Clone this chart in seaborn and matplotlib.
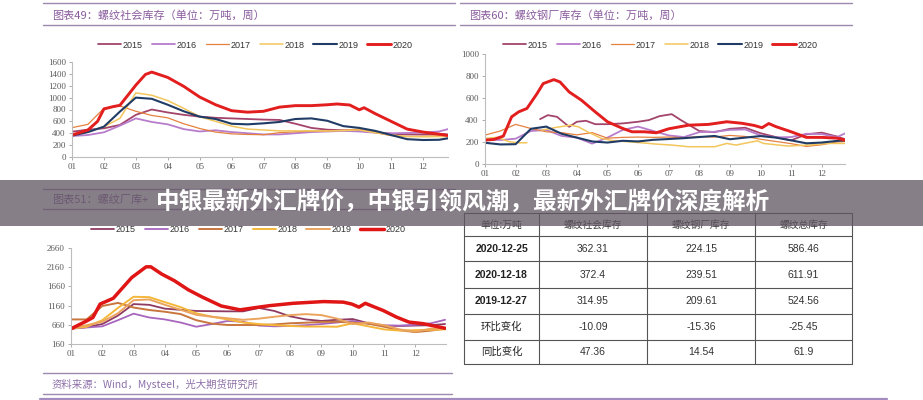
import numpy as np
import matplotlib
matplotlib.use("Agg")
import matplotlib.pyplot as plt
import seaborn as sns
from matplotlib.patches import Rectangle

sns.set_style("white")
plt.rcParams['font.family'] = ['Liberation Sans', 'Noto Sans CJK SC']

W, H = 923, 400

# ---------------- data ----------------
years = ['2015', '2016', '2017', '2018', '2019', '2020']
month_labels = ['01', '02', '03', '04', '05', '06', '07', '08', '09', '10', '11', '12']

# 图表49 螺纹社会库存 (half-month points)
grid_a = [1, 1.5, 2, 2.5, 3, 3.5, 4, 4.5, 5, 5.5, 6, 6.5, 7, 7.5, 8, 8.5, 9, 9.5,
          10, 10.5, 11, 11.5, 12, 12.5, 12.78]
soc_2015 = [427, 460, 483, 540, 710, 800, 750, 710, 680, 660, 650, 640, 630, 624, 560, 490,
            460, 450, 440, 420, 390, 380, 380, 390, 380]
soc_2016 = [354, 370, 416, 528, 650, 590, 550, 470, 430, 450, 420, 400, 380, 380, 400, 420,
            430, 440, 430, 410, 400, 405, 410, 430, 470]
soc_2017 = [494, 550, 820, 860, 770, 700, 660, 560, 480, 420, 390, 380, 375, 410, 425, 435,
            440, 450, 470, 410, 360, 345, 350, 360, 370]
soc_2018 = [370, 420, 510, 650, 1080, 1040, 950, 820, 680, 600, 520, 470, 455, 440, 440, 440,
            438, 445, 455, 410, 370, 345, 340, 345, 345]
soc_2019 = [360, 420, 511, 764, 1000, 980, 880, 770, 680, 640, 560, 550, 567, 590, 640, 650,
            610, 520, 490, 440, 370, 300, 286, 290, 315]
soc_2020_x = [1, 1.5, 1.8, 2, 2.3, 2.5, 3, 3.3, 3.5, 4, 4.5, 5, 5.5, 6, 6.5, 7, 7.5, 8, 8.5, 9,
              9.3, 9.7, 10, 10.15, 10.5, 11, 11.5, 12, 12.5, 12.78]
soc_2020 = [370, 455, 600, 810, 850, 870, 1210, 1390, 1430, 1340, 1190, 1010, 880, 780, 755,
            770, 840, 865, 865, 880, 893, 876, 795, 830, 730, 600, 470, 420, 385, 362]

# 图表60 螺纹钢厂库存
grid_b = [1, 1.5, 2, 2.5, 3, 3.5, 4, 4.5, 5, 5.5, 6, 6.5, 7, 7.5, 8, 8.5, 9, 9.5,
          10, 10.5, 11, 11.5, 12, 12.5, 12.76]
mill_2015_x = [2.8, 3.05, 3.35, 3.75, 4, 4.3, 4.6, 5, 5.5, 6, 6.35, 6.7, 7.1, 7.4, 8, 8.5, 9,
               9.5, 10, 10.5, 11, 11.5, 12, 12.5, 12.76]
mill_2015 = [408, 444, 429, 338, 384, 393, 362, 362, 369, 384, 399, 435, 453, 399, 300, 290,
             320, 330, 280, 245, 215, 270, 285, 250, 225]
mill_2016 = [224, 218, 230, 300, 310, 255, 240, 185, 240, 310, 340, 300, 260, 245, 290, 293,
             310, 314, 260, 242, 245, 275, 272, 245, 278]
mill_2017 = [263, 300, 360, 323, 293, 285, 265, 285, 235, 242, 245, 242, 245, 238, 250, 245,
             260, 250, 225, 205, 185, 160, 175, 200, 205]
mill_2018_x = [1, 1.4, 1.8, 2.1, 2.37, 2.55, 2.85, 3.3, 3.8, 4.05, 4.35, 4.8, 5.2, 5.7, 6.1,
               6.6, 7.1, 7.65, 8.5, 8.9, 9.2, 9.9, 10.1, 10.9, 11.56, 12.2, 12.76]
mill_2018 = [233, 242, 202, 193, 193, np.nan, 308, 332, 353, 338, 293, 233, 211, 202, 193,
             181, 172, 157, 157, 187, 172, 211, 187, 163, 172, 187, 187]
mill_2019 = [193, 178, 180, 320, 340, 275, 240, 205, 195, 211, 205, 220, 227, 235, 245, 255,
             225, 240, 254, 240, 215, 188, 195, 210, 215]
mill_2020_x = [1, 1.3, 1.6, 1.87, 2.1, 2.37, 2.7, 2.9, 3.25, 3.45, 3.75, 4.15, 4.6, 5, 5.5,
               5.8, 6.2, 6.6, 7, 7.65, 8.3, 8.9, 9.4, 9.8, 10.05, 10.27, 10.5, 11, 11.5, 12,
               12.5, 12.76]
mill_2020 = [217, 224, 254, 429, 474, 505, 640, 731, 767, 746, 655, 580, 474, 384, 323, 293,
             293, 284, 320, 353, 360, 384, 370, 350, 330, 368, 340, 293, 242, 242, 235, 217]

# 图表51 螺纹厂库+社库
grid_c = [1, 1.5, 2, 2.5, 3, 3.5, 4, 4.5, 5, 5.5, 6, 6.5, 7, 7.5, 8, 8.5, 9, 9.5,
          10, 10.5, 11, 11.5, 12, 12.5, 12.95]
tot_2015 = [560, 600, 680, 900, 1200, 1180, 1080, 1050, 1020, 1015, 1010, 1010, 1100, 1020,
            880, 800, 760, 790, 810, 700, 640, 630, 640, 650, 680]
tot_2016 = [560, 590, 620, 780, 950, 850, 800, 720, 610, 680, 760, 740, 640, 620, 630, 650,
            680, 720, 760, 690, 640, 640, 660, 700, 790]
tot_2017 = [800, 800, 1150, 1230, 1110, 1045, 1000, 940, 780, 690, 655, 655, 655, 670, 700,
            715, 735, 740, 715, 690, 610, 520, 470, 510, 560]
tot_2018 = [560, 610, 780, 1100, 1390, 1380, 1250, 1120, 960, 870, 800, 720, 680, 650, 630,
            615, 615, 610, 700, 620, 540, 510, 520, 530, 540]
tot_2019 = [566, 650, 740, 960, 1300, 1320, 1180, 1050, 920, 870, 830, 790, 820, 870, 912,
            938, 912, 820, 680, 720, 650, 540, 480, 560, 570]
tot_2020_x = [1, 1.5, 1.7, 1.93, 2.35, 2.94, 3.4, 3.55, 3.9, 4.3, 4.75, 5.2, 5.8, 6.4, 7.0,
              7.36, 8.1, 9.07, 9.7, 9.97, 10.2, 10.4, 10.98, 11.4, 11.8, 12.25, 12.95]
tot_2020 = [556, 760, 850, 1200, 1350, 1890, 2170, 2170, 1980, 1810, 1570, 1380, 1150, 1050,
            1120, 1160, 1220, 1265, 1250, 1200, 1120, 1220, 1030, 860, 730, 690, 570]

# table
table_header = ['单位:万吨', '螺纹社会库存', '螺纹钢厂库存', '螺纹总库存']
table_rows = ['2020-12-25', '2020-12-18', '2019-12-27', '环比变化', '同比变化']
social_stock = [362.31, 372.4, 314.95, -10.09, 47.36]
mill_stock = [224.15, 239.51, 209.61, -15.36, 14.54]
total_stock = [586.46, 611.91, 524.56, -25.45, 61.9]

title_a = '图表49：螺纹社会库存（单位：万吨，周）'
title_b = '图表60：螺纹钢厂库存（单位：万吨，周）'
title_c = '图表51：螺纹厂库+'
source_text = '资料来源：Wind，Mysteel，光大期货研究所'
banner_text = '中银最新外汇牌价，中银引领风潮，最新外汇牌价深度解析'

# ---------------- styles ----------------
top_colors = ['#A3446B', '#B77CCB', '#E5823F', '#F2C65C', '#203C66', '#E21E1E']
top_widths = [1.3, 1.3, 0.9, 1.1, 1.5, 2.1]
bot_colors = ['#8E3A62', '#A866BE', '#C8763E', '#F4B73A', '#EBA45E', '#E01515']
bot_widths = [1.3, 1.3, 1.4, 1.4, 1.4, 2.5]
rule_color = '#9D88AE'
title_color = '#8A5C9E'
tick_color = '#5A5A5A'

fig = plt.figure(figsize=(W / 100, H / 100), dpi=100)


def place(l, r, t, b):
    return fig.add_axes([l / W, 1 - b / H, (r - l) / W, (b - t) / H])


def draw(ax, x, y, color, lw, label):
    x = np.asarray(x, float)
    y = np.asarray(y, float)
    breaks = np.where(np.isnan(y))[0]
    start = 0
    first = True
    for stop in list(breaks) + [len(y)]:
        if stop - start > 1:
            sns.lineplot(x=x[start:stop], y=y[start:stop], ax=ax, color=color, linewidth=lw,
                         label=label if first else None, sort=False, estimator=None)
            first = False
        start = stop + 1


def style(ax, xmax, ylo, yhi, ystep, legend_xy):
    ax.set_xlim(1, xmax)
    ax.set_ylim(ylo, yhi)
    ax.set_xticks(range(1, 13))
    ax.set_xticklabels(month_labels)
    ax.set_yticks(range(ylo, yhi + 1, ystep))
    for lab in ax.get_xticklabels() + ax.get_yticklabels():
        lab.set_fontfamily('Liberation Serif')
        lab.set_fontsize(6.5)
        lab.set_color(tick_color)
    ax.tick_params(axis='both', length=2.5, width=0.6, color='#A0A0A0', pad=2, left=True, bottom=True)
    for s in ['top', 'right']:
        ax.spines[s].set_visible(False)
    for s in ['left', 'bottom']:
        ax.spines[s].set_color('#BDBDBD')
        ax.spines[s].set_linewidth(0.8)
    ax.set_xlabel('')
    ax.set_ylabel('')
    h, l = ax.get_legend_handles_labels()
    ax.legend(h, l, ncol=6, loc='center', bbox_to_anchor=(legend_xy[0] / W, 1 - legend_xy[1] / H),
              bbox_transform=fig.transFigure, frameon=False, fontsize=6.5, handlelength=2.6,
              handletextpad=0.15, columnspacing=1.0, borderpad=0, labelcolor='#333333')


# top-left
ax1 = place(72, 448, 62, 157)
for yr, xs, ys, c, lw in zip(years, [grid_a] * 5 + [soc_2020_x],
                             [soc_2015, soc_2016, soc_2017, soc_2018, soc_2019, soc_2020],
                             top_colors, top_widths):
    draw(ax1, xs, ys, c, lw, yr)
style(ax1, 12.78, 0, 1600, 200, (255, 45))

# top-right
ax2 = place(485, 845, 54, 164)
for yr, xs, ys, c, lw in zip(years, [mill_2015_x, grid_b, grid_b, mill_2018_x, grid_b, mill_2020_x],
                             [mill_2015, mill_2016, mill_2017, mill_2018, mill_2019, mill_2020],
                             top_colors, top_widths):
    draw(ax2, xs, ys, c, lw, yr)
style(ax2, 12.76, 0, 1000, 200, (660, 45))

# bottom-left
ax3 = place(71, 446, 248, 344)
for yr, xs, ys, c, lw in zip(years, [grid_c] * 5 + [tot_2020_x],
                             [tot_2015, tot_2016, tot_2017, tot_2018, tot_2019, tot_2020],
                             bot_colors, bot_widths):
    draw(ax3, xs, ys, c, lw, yr)
style(ax3, 12.98, 160, 2660, 500, (248, 230))

# ---------------- overlay: titles, table, banner ----------------
ov = fig.add_axes([0, 0, 1, 1])
ov.set_xlim(0, W)
ov.set_ylim(H, 0)
ov.axis('off')
ov.set_zorder(5)
ov.patch.set_alpha(0)

cjk = ['Noto Sans CJK SC', 'DejaVu Sans']
for (x0, x1), ys in [((43, 455), (3, 25)), ((460, 852), (3, 25)), ((43, 455), (189, 209)),
                     ((43, 452), (373, 394))]:
    for yy in ys:
        ov.plot([x0, x1], [yy, yy], color=rule_color, lw=1)
ov.plot([40, 887], [398.5, 398.5], color='#A48BC0', lw=1.6)

ov.text(52, 15, title_a, family=cjk, fontsize=8, color=title_color, va='center')
ov.text(469, 15, title_b, family=cjk, fontsize=8, color=title_color, va='center')
ov.text(52, 200, title_c, family=cjk, fontsize=8, color=title_color, va='center')
ov.text(52, 384, source_text, family=cjk, fontsize=7.5, color='#8E70AA', va='center',
        style='italic')

# table
cols_x = [464, 539, 647, 755, 852]
rows_y = [213, 236, 261, 288, 314, 340, 364]
for yy in rows_y:
    ov.plot([cols_x[0], cols_x[-1]], [yy, yy], color='#555555', lw=0.8)
for xx in cols_x:
    ov.plot([xx, xx], [rows_y[0], rows_y[-1]], color='#555555', lw=0.8)
centers = [(cols_x[i] + cols_x[i + 1]) / 2 for i in range(4)]
row_mid = [(rows_y[i] + rows_y[i + 1]) / 2 for i in range(6)]
for cx, txt in zip(centers, table_header):
    ov.text(cx, row_mid[0], txt, family=cjk, fontsize=7, color='#333333', ha='center', va='center')
for i, name in enumerate(table_rows):
    ym = row_mid[i + 1]
    if name[0].isdigit():
        ov.text(centers[0], ym, name, fontsize=7.5, fontweight='bold', color='#222222',
                ha='center', va='center')
    else:
        ov.text(centers[0], ym, name, family=cjk, fontsize=7.5, color='#222222',
                ha='center', va='center')
    for cx, vals in zip(centers[1:], [social_stock, mill_stock, total_stock]):
        ov.text(cx, ym, str(vals[i]), fontsize=7.5, color='#333333', ha='center', va='center')

# banner overlay
ov.add_patch(Rectangle((0, 180), W, 46, facecolor=(0.38, 0.34, 0.39), alpha=0.76,
                       edgecolor='none', zorder=10))
ov.text(W / 2 + 2, 202, banner_text, family=cjk, fontsize=17, fontweight='bold',
        color='white', ha='center', va='center', zorder=11)

fig.savefig('out.png', dpi=100)
